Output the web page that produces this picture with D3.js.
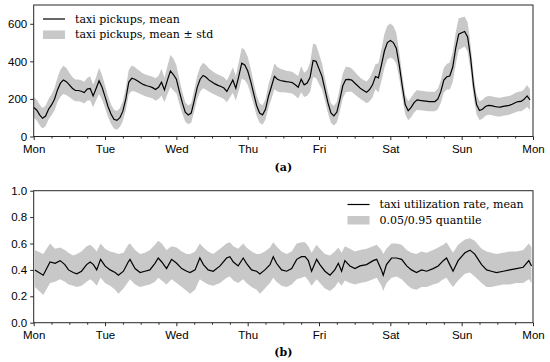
<!DOCTYPE html>
<html lang="en">
<head>
<meta charset="UTF-8" />
<title>Taxi pickups and utilization</title>
<script src="https://d3js.org/d3.v7.min.js"></script>
<style>
  body { margin: 0; background: #fff; }
  svg { display: block; font-family: "DejaVu Serif", serif; }
  .tick text { font-size: 11.5px; fill: #000; }
  .legend text { font-size: 11px; }
</style>
</head>
<body>
<svg id="chart" width="550" height="362"></svg>
<script>
// x tick labels (one per day, week starts Monday 00:00)
const dayLabels = ["Mon", "Tue", "Wed", "Thu", "Fri", "Sat", "Sun", "Mon"];

// (a) hourly taxi pickups, mean over weeks (hour 0 = Monday 00:00)
const pickupMean = [
  155, 141, 115, 97, 109, 145, 168, 198, 248, 284, 301, 292, 275, 257, 245, 245, 241, 234, 252, 256, 216, 255, 296, 262,
  212, 160, 120, 92, 86, 100, 135, 200, 290, 310, 305, 295, 285, 276, 270, 266, 260, 250, 262, 289, 248, 300, 349, 330,
  305, 240, 180, 130, 115, 125, 190, 260, 305, 325, 315, 300, 290, 280, 272, 266, 258, 240, 270, 301, 257, 320, 390, 381,
  350, 295, 230, 165, 125, 115, 145, 215, 266, 320, 305, 298, 295, 292, 290, 287, 275, 262, 305, 275, 285, 315, 405, 400,
  360, 320, 250, 180, 125, 110, 130, 195, 270, 303, 304, 300, 285, 270, 255, 245, 235, 250, 275, 319, 312, 380, 455, 500,
  511, 500, 470, 380, 270, 170, 137, 155, 180, 195, 192, 190, 188, 186, 186, 186, 200, 240, 300, 318, 322, 370, 470, 545,
  552, 559, 530, 420, 270, 170, 138, 145, 160, 166, 164, 160, 157, 156, 160, 163, 166, 172, 180, 186, 187, 198, 216, 195
];
// (a) hourly standard deviation of pickups
const pickupStd = [
  55, 55, 55, 55, 55, 55, 55, 60, 65, 72, 75, 72, 65, 60, 58, 58, 58, 58, 60, 65, 60, 62, 70, 65,
  60, 55, 52, 50, 50, 50, 52, 60, 65, 68, 65, 62, 60, 58, 58, 58, 58, 60, 62, 72, 65, 75, 85, 85,
  75, 65, 58, 52, 50, 52, 58, 62, 65, 68, 66, 62, 60, 58, 58, 58, 58, 58, 62, 68, 65, 75, 82, 80,
  75, 68, 60, 55, 52, 52, 55, 62, 65, 68, 65, 62, 60, 58, 58, 58, 58, 60, 70, 65, 68, 78, 90, 88,
  80, 70, 60, 55, 52, 52, 55, 62, 66, 68, 66, 62, 60, 58, 56, 56, 58, 62, 68, 66, 78, 85, 90, 90,
  90, 88, 82, 70, 60, 52, 50, 52, 52, 52, 52, 52, 52, 52, 52, 52, 55, 60, 66, 68, 72, 80, 85, 85,
  82, 80, 78, 70, 60, 52, 50, 50, 50, 50, 50, 50, 50, 50, 50, 50, 50, 50, 52, 52, 52, 54, 58, 55
];

// (b) taxi utilization rate, read at these hours of the week
const utilHours = [
  0.4, 3.2, 5.5, 7.2, 8.9, 10.5, 11.7, 13.3, 14.5, 16.1, 17.8, 19.0, 20.1, 21.2, 22.5,
  24.0, 25.7, 27.4, 28.5, 30.2, 31.8, 32.4, 34.1, 35.8, 37.4, 39.1, 40.8, 41.9, 43.1, 44.7, 46.4,
  48.1, 49.8, 51.5, 52.6, 54.3, 55.9, 57.1, 58.7, 60.4, 62.7, 64.9, 66.0, 67.2, 68.8, 70.5, 71.6,
  73.3, 75.0, 76.1, 77.8, 79.5, 80.6, 81.7, 83.4, 85.1, 86.8, 88.5, 90.1, 91.3, 92.4, 93.5, 95.2,
  96.3, 98.0, 99.7, 101.3, 102.5, 103.6, 104.7, 106.4, 108.1, 109.8, 112.0, 114.2, 115.4, 117.0, 117.6, 118.7,
  120.4, 122.1, 123.8, 125.5, 127.1, 128.8, 130.5, 132.2, 134.4, 136.1, 137.8, 138.9, 140.0, 141.1, 142.8,
  145.1, 146.8, 148.4, 150.7, 152.4, 154.0, 155.7, 158.0, 160.2, 162.4, 164.7, 166.6, 167.5
];
const utilMean = [
  0.40, 0.36, 0.46, 0.45, 0.47, 0.44, 0.40, 0.38, 0.37, 0.39, 0.44, 0.46, 0.44, 0.40, 0.48,
  0.43, 0.40, 0.38, 0.36, 0.39, 0.46, 0.48, 0.41, 0.38, 0.39, 0.40, 0.45, 0.49, 0.46, 0.41, 0.48,
  0.45, 0.41, 0.39, 0.38, 0.40, 0.49, 0.44, 0.40, 0.39, 0.43, 0.49, 0.50, 0.46, 0.43, 0.49, 0.45,
  0.40, 0.39, 0.37, 0.40, 0.44, 0.50, 0.45, 0.40, 0.39, 0.41, 0.48, 0.50, 0.50, 0.47, 0.39, 0.48,
  0.44, 0.39, 0.36, 0.40, 0.45, 0.39, 0.47, 0.43, 0.41, 0.43, 0.44, 0.47, 0.48, 0.40, 0.36, 0.44,
  0.49, 0.49, 0.48, 0.43, 0.40, 0.38, 0.40, 0.39, 0.41, 0.43, 0.47, 0.49, 0.44, 0.39, 0.47,
  0.53, 0.55, 0.52, 0.44, 0.40, 0.39, 0.38, 0.39, 0.40, 0.41, 0.42, 0.47, 0.43
];
const utilQ95 = [
  0.55, 0.52, 0.60, 0.56, 0.57, 0.55, 0.53, 0.51, 0.52, 0.54, 0.58, 0.59, 0.57, 0.54, 0.60,
  0.56, 0.54, 0.53, 0.52, 0.53, 0.59, 0.60, 0.55, 0.52, 0.53, 0.55, 0.59, 0.62, 0.60, 0.55, 0.58,
  0.57, 0.54, 0.52, 0.52, 0.54, 0.60, 0.57, 0.54, 0.52, 0.56, 0.60, 0.61, 0.58, 0.56, 0.60, 0.57,
  0.54, 0.52, 0.52, 0.54, 0.57, 0.61, 0.58, 0.54, 0.52, 0.54, 0.60, 0.61, 0.61, 0.58, 0.53, 0.59,
  0.56, 0.52, 0.51, 0.54, 0.57, 0.53, 0.58, 0.56, 0.54, 0.55, 0.56, 0.58, 0.59, 0.55, 0.52, 0.56,
  0.60, 0.60, 0.59, 0.55, 0.53, 0.52, 0.54, 0.53, 0.55, 0.57, 0.59, 0.61, 0.57, 0.53, 0.59,
  0.63, 0.64, 0.62, 0.56, 0.54, 0.53, 0.52, 0.53, 0.54, 0.54, 0.55, 0.60, 0.57
];
const utilQ05 = [
  0.27, 0.21, 0.30, 0.31, 0.33, 0.31, 0.29, 0.28, 0.27, 0.28, 0.31, 0.33, 0.31, 0.28, 0.34,
  0.30, 0.28, 0.25, 0.22, 0.26, 0.31, 0.33, 0.29, 0.27, 0.28, 0.29, 0.31, 0.34, 0.32, 0.29, 0.33,
  0.30, 0.27, 0.24, 0.22, 0.25, 0.33, 0.31, 0.29, 0.28, 0.30, 0.34, 0.35, 0.32, 0.30, 0.33, 0.30,
  0.27, 0.25, 0.22, 0.26, 0.30, 0.34, 0.31, 0.28, 0.27, 0.29, 0.33, 0.34, 0.35, 0.32, 0.28, 0.33,
  0.30, 0.26, 0.24, 0.27, 0.31, 0.28, 0.32, 0.30, 0.29, 0.30, 0.31, 0.33, 0.34, 0.28, 0.24, 0.30,
  0.34, 0.35, 0.33, 0.29, 0.26, 0.25, 0.27, 0.27, 0.29, 0.30, 0.33, 0.34, 0.30, 0.27, 0.32,
  0.37, 0.38, 0.35, 0.30, 0.27, 0.27, 0.28, 0.29, 0.29, 0.30, 0.30, 0.33, 0.30
];

const svg = d3.select("#chart");
const bandColor = "#c8c8c8";
const spineColor = "#262626";

const x = d3.scaleLinear().domain([0, 168]).range([33.7, 533]);
const yTop = d3.scaleLinear().domain([0, 700]).range([136.5, 5]);
const yBot = d3.scaleLinear().domain([0, 1]).range([322.7, 190.7]);

function drawFrame(y, ticks, fmt) {
  const [y0, y1] = y.range();
  const g = svg.append("g");
  g.append("rect")
    .attr("x", x(0)).attr("y", y1)
    .attr("width", x(168) - x(0)).attr("height", y0 - y1)
    .attr("fill", "none").attr("stroke", spineColor).attr("stroke-width", 1);

  // minor ticks every 6 hours
  g.append("g")
    .attr("transform", `translate(0,${y0})`)
    .call(d3.axisBottom(x).tickValues(d3.range(0, 169, 6).filter(h => h % 24)).tickSize(2).tickFormat(""))
    .call(a => a.select(".domain").remove())
    .selectAll("line").attr("stroke", spineColor);

  const xa = g.append("g")
    .attr("transform", `translate(0,${y0})`)
    .call(d3.axisBottom(x).tickValues(d3.range(0, 169, 24)).tickSize(3.5).tickPadding(5)
      .tickFormat((d, i) => dayLabels[i]));
  xa.select(".domain").remove();
  xa.selectAll("line").attr("stroke", spineColor);

  const ya = g.append("g")
    .attr("transform", `translate(${x(0)},0)`)
    .call(d3.axisLeft(y).tickValues(ticks).tickSize(3.5).tickPadding(3).tickFormat(fmt));
  ya.select(".domain").remove();
  ya.selectAll("line").attr("stroke", spineColor);
  return g;
}

// ---- (a) pickups ----
const hours = d3.range(pickupMean.length);
svg.append("path")
  .datum(hours)
  .attr("fill", bandColor)
  .attr("d", d3.area()
    .x(h => x(h))
    .y0(h => yTop(Math.max(0, pickupMean[h] - pickupStd[h])))
    .y1(h => yTop(pickupMean[h] + pickupStd[h])));
svg.append("path")
  .datum(hours)
  .attr("fill", "none").attr("stroke", "#000").attr("stroke-width", 1.2)
  .attr("d", d3.line().x(h => x(h)).y(h => yTop(pickupMean[h])));
drawFrame(yTop, [0, 200, 400, 600], d3.format("d"));

// ---- (b) utilization ----
const idx = d3.range(utilHours.length);
svg.append("path")
  .datum(idx)
  .attr("fill", bandColor)
  .attr("d", d3.area()
    .x(i => x(utilHours[i]))
    .y0(i => yBot(utilQ05[i]))
    .y1(i => yBot(utilQ95[i])));
svg.append("path")
  .datum(idx)
  .attr("fill", "none").attr("stroke", "#000").attr("stroke-width", 1.2)
  .attr("d", d3.line().x(i => x(utilHours[i])).y(i => yBot(utilMean[i])));
drawFrame(yBot, [0, 0.2, 0.4, 0.6, 0.8, 1.0], d3.format(".1f"));

// ---- legends ----
function legend(x0, yLine, labels) {
  const g = svg.append("g").attr("class", "legend");
  g.append("line")
    .attr("x1", x0).attr("x2", x0 + 22)
    .attr("y1", yLine).attr("y2", yLine)
    .attr("stroke", "#000").attr("stroke-width", 1.2);
  g.append("rect")
    .attr("x", x0).attr("y", yLine + 11.5)
    .attr("width", 22).attr("height", 8.5)
    .attr("fill", bandColor);
  labels.forEach((t, i) => {
    g.append("text")
      .attr("x", x0 + 32).attr("y", yLine + i * 15.5)
      .attr("dy", "0.35em")
      .text(t);
  });
}
legend(43, 19, ["taxi pickups, mean", "taxi pickups, mean \u00b1 std"]);
legend(347.5, 204.5, ["taxi utilization rate, mean", "0.05/0.95 quantile"]);

// panel labels
svg.append("text")
  .attr("x", x(84)).attr("y", 167).attr("dy", "0.35em")
  .attr("text-anchor", "middle")
  .attr("font-size", 11).attr("font-weight", "bold")
  .text("(a)");
svg.append("text")
  .attr("x", x(84)).attr("y", 352).attr("dy", "0.35em")
  .attr("text-anchor", "middle")
  .attr("font-size", 11).attr("font-weight", "bold")
  .text("(b)");
</script>
</body>
</html>
